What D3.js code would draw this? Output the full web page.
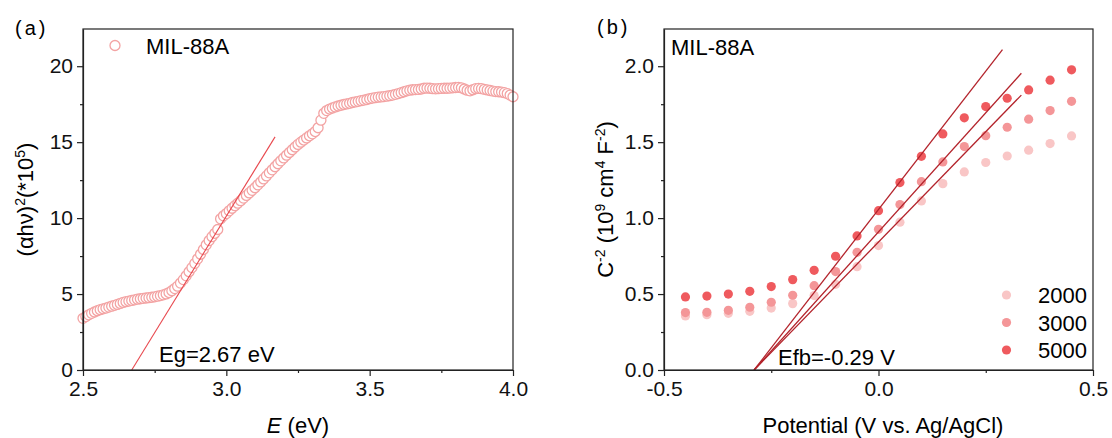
<!DOCTYPE html>
<html>
<head>
<meta charset="utf-8">
<script src="https://cdn.jsdelivr.net/npm/d3@7"></script>
<style>
  html, body { margin: 0; padding: 0; background: #fff; }
  svg { display: block; font-family: "Liberation Sans", Arial, sans-serif; }
  .axis path, .axis line { stroke: #222; stroke-width: 1.2; }
  .axis text { font-size: 21px; fill: #111; font-family: "Liberation Sans", Arial, sans-serif; }
</style>
</head>
<body>
<svg id="chart" width="1112" height="438"></svg>
<script>
// ---------- Panel (a): Tauc plot ----------
const taucLabel = "MIL-88A";
const energy = [
  2.50,2.51,2.52,2.53,2.54,2.55,2.56,2.57,2.58,2.59,
  2.60,2.61,2.62,2.63,2.64,2.65,2.66,2.67,2.68,2.69,
  2.70,2.71,2.72,2.73,2.74,2.75,2.76,2.77,2.78,2.79,
  2.80,2.81,2.82,2.83,2.84,2.85,2.86,2.87,2.88,2.89,
  2.90,2.91,2.92,2.93,2.94,2.95,2.96,2.97,2.98,2.99,
  3.00,3.01,3.02,3.03,3.04,3.05,3.06,3.07,3.08,3.09,
  3.10,3.11,3.12,3.13,3.14,3.15,3.16,3.17,3.18,3.19,
  3.20,3.21,3.22,3.23,3.24,3.25,3.26,3.27,3.28,3.29,
  3.30,3.31,3.32,3.33,3.34,3.35,3.36,3.37,3.38,3.39,
  3.40,3.41,3.42,3.43,3.44,3.45,3.46,3.47,3.48,3.49,
  3.50,3.51,3.52,3.53,3.54,3.55,3.56,3.57,3.58,3.59,
  3.60,3.61,3.62,3.63,3.64,3.65,3.66,3.67,3.68,3.69,
  3.70,3.71,3.72,3.73,3.74,3.75,3.76,3.77,3.78,3.79,
  3.80,3.81,3.82,3.83,3.84,3.85,3.86,3.87,3.88,3.89,
  3.90,3.91,3.92,3.93,3.94,3.95,3.96,3.97,3.98,3.99,
  4.00
];
const tauc = [
  3.40,3.52,3.63,3.73,3.82,3.90,3.97,4.03,4.08,4.14,
  4.20,4.26,4.32,4.38,4.45,4.50,4.54,4.58,4.62,4.66,
  4.69,4.72,4.74,4.76,4.79,4.82,4.86,4.90,4.95,5.01,
  5.10,5.22,5.36,5.52,5.72,5.95,6.20,6.47,6.74,7.02,
  7.32,7.62,7.93,8.24,8.52,8.78,9.00,9.25,9.95,10.15,
  10.30,10.48,10.65,10.82,10.98,11.15,11.32,11.49,11.66,11.83,
  12.00,12.19,12.38,12.58,12.78,12.98,13.18,13.38,13.58,13.77,
  13.96,14.14,14.32,14.50,14.68,14.85,15.00,15.14,15.28,15.42,
  15.55,15.70,15.95,16.45,16.90,17.08,17.18,17.25,17.32,17.38,
  17.43,17.48,17.52,17.56,17.61,17.65,17.69,17.73,17.77,17.81,
  17.86,17.90,17.93,17.96,17.98,18.00,18.03,18.06,18.10,18.15,
  18.20,18.26,18.32,18.38,18.42,18.45,18.46,18.47,18.50,18.55,
  18.56,18.55,18.52,18.51,18.52,18.54,18.55,18.55,18.56,18.58,
  18.60,18.61,18.58,18.50,18.42,18.38,18.45,18.52,18.54,18.52,
  18.48,18.44,18.40,18.36,18.33,18.32,18.30,18.26,18.20,18.10,
  17.99
];
// Band-gap tangent: intercept Eg, slope and end point of the drawn segment
const bandGap = 2.67;
const tangentSlope = 30.7;
const tangentEnd = 3.17;
const taucXTicks = [2.5, 3.0, 3.5, 4.0];
const taucXMinor = [2.75, 3.25, 3.75];
const taucYTicks = [0, 5, 10, 15, 20];
const taucYMinor = [2.5, 7.5, 12.5, 17.5];

// ---------- Panel (b): Mott–Schottky plot ----------
const potential = [-0.45,-0.40,-0.35,-0.30,-0.25,-0.20,-0.15,-0.10,-0.05,0.00,
                   0.05,0.10,0.15,0.20,0.25,0.30,0.35,0.40,0.45];
const freqLabels = ["2000", "3000", "5000"];
const ms2000 = [0.356,0.364,0.373,0.386,0.408,0.437,0.490,0.564,0.680,0.819,
                0.973,1.113,1.227,1.304,1.366,1.409,1.447,1.491,1.541];
const ms3000 = [0.378,0.380,0.393,0.413,0.446,0.492,0.555,0.648,0.775,0.926,
                1.089,1.240,1.370,1.471,1.543,1.598,1.651,1.708,1.769];
const ms5000 = [0.481,0.487,0.500,0.518,0.549,0.595,0.656,0.749,0.883,1.049,
                1.234,1.407,1.554,1.660,1.734,1.789,1.844,1.908,1.976];
// Linear fits share the flat-band intercept; slopes and segment ends per frequency
const flatBand = -0.29;
const fitSlopes = [2.905, 3.136, 3.644];
const fitEnds = [0.333, 0.333, 0.289];
const msXTicks = [-0.5, 0.0, 0.5];
const msXMinor = [-0.25, 0.25];
const msYTicks = [0.0, 0.5, 1.0, 1.5, 2.0];
const msYMinor = [0.25, 0.75, 1.25, 1.75];

const freqColors = ["#f9c6c6", "#f49698", "#ef5a5e"];
const svg = d3.select("#chart");
const plotTop = 29, plotBottom = 370;

function frame(g, x0, x1) {
  g.append("rect").attr("x", x0).attr("y", plotTop).attr("width", x1 - x0).attr("height", plotBottom - plotTop)
    .attr("fill", "none").attr("stroke", "#222").attr("stroke-width", 1.2);
}

function axes(g, x, y, xt, xm, yt, ym, xfmt, yfmt) {
  g.append("g").attr("class", "axis").attr("transform", `translate(0,${plotBottom})`)
    .call(d3.axisBottom(x).tickValues(xt).tickFormat(xfmt).tickSize(6).tickSizeOuter(0).tickPadding(5));
  g.append("g").attr("class", "axis").attr("transform", `translate(0,${plotBottom})`)
    .call(d3.axisBottom(x).tickValues(xm).tickFormat("").tickSize(3).tickSizeOuter(0))
    .select(".domain").remove();
  g.append("g").attr("class", "axis").attr("transform", `translate(${x.range()[0]},0)`)
    .call(d3.axisLeft(y).tickValues(yt).tickFormat(yfmt).tickSize(6).tickSizeOuter(0).tickPadding(4));
  g.append("g").attr("class", "axis").attr("transform", `translate(${x.range()[0]},0)`)
    .call(d3.axisLeft(y).tickValues(ym).tickFormat("").tickSize(3).tickSizeOuter(0))
    .select(".domain").remove();
}

// ----- panel (a)
{
  const x0 = 83, x1 = 513;
  const x = d3.scaleLinear().domain([2.5, 4.0]).range([x0, x1]);
  const y = d3.scaleLinear().domain([0, 22.45]).range([plotBottom, plotTop]);
  const g = svg.append("g");

  g.append("g").selectAll("circle").data(energy).join("circle")
    .attr("cx", (d) => x(d)).attr("cy", (d, i) => y(tauc[i])).attr("r", 5)
    .attr("fill", "#fff").attr("stroke", "#f3a3a3").attr("stroke-width", 1.3);

  g.append("line")
    .attr("x1", x(bandGap)).attr("y1", y(0))
    .attr("x2", x(tangentEnd)).attr("y2", y(tangentSlope * (tangentEnd - bandGap)))
    .attr("stroke", "#e8484e").attr("stroke-width", 1.1);

  frame(g, x0, x1);
  axes(g, x, y, taucXTicks, taucXMinor, taucYTicks, taucYMinor, d3.format(".1f"), d3.format("d"));

  // legend
  g.append("circle").attr("cx", 115).attr("cy", 45.5).attr("r", 5)
    .attr("fill", "#fff").attr("stroke", "#f3a3a3").attr("stroke-width", 1.3);
  g.append("text").attr("x", 146).attr("y", 53.5).attr("font-size", 22).text(taucLabel);

  g.append("text").attr("x", 159).attr("y", 362).attr("font-size", 22).text("Eg=2.67 eV");

  // axis titles
  const xt = g.append("text").attr("x", (x0 + x1) / 2).attr("y", 433).attr("text-anchor", "middle").attr("font-size", 22);
  xt.append("tspan").attr("font-style", "italic").text("E");
  xt.append("tspan").text(" (eV)");

  const yt = g.append("text").attr("transform", `translate(33,${(plotTop + plotBottom) / 2}) rotate(-90)`)
    .attr("text-anchor", "middle").attr("font-size", 22);
  yt.append("tspan").text("(αhν)");
  yt.append("tspan").attr("font-size", 14).attr("dy", -8).text("2");
  yt.append("tspan").attr("dy", 8).text("(*10");
  yt.append("tspan").attr("font-size", 14).attr("dy", -8).text("5");
  yt.append("tspan").attr("dy", 8).text(")");

  g.append("text").attr("x", 15).attr("y", 35).attr("font-size", 20).attr("letter-spacing", 3).text("(a)");
}

// ----- panel (b)
{
  const x0 = 664, x1 = 1093;
  const x = d3.scaleLinear().domain([-0.5, 0.5]).range([x0, x1]);
  const y = d3.scaleLinear().domain([0, 2.245]).range([plotBottom, plotTop]);
  const g = svg.append("g");
  const series = [ms2000, ms3000, ms5000];

  series.forEach((vals, k) => {
    g.append("g").selectAll("circle").data(potential).join("circle")
      .attr("cx", (d) => x(d)).attr("cy", (d, i) => y(vals[i])).attr("r", 4.6)
      .attr("fill", freqColors[k]);
  });

  fitSlopes.forEach((s, k) => {
    g.append("line")
      .attr("x1", x(flatBand)).attr("y1", y(0))
      .attr("x2", x(fitEnds[k])).attr("y2", y(s * (fitEnds[k] - flatBand)))
      .attr("stroke", "#b3232b").attr("stroke-width", 1.3);
  });

  frame(g, x0, x1);
  axes(g, x, y, msXTicks, msXMinor, msYTicks, msYMinor, (d) => d.toFixed(1), (d) => d.toFixed(1));

  g.append("text").attr("x", 671).attr("y", 55).attr("font-size", 22).text("MIL-88A");
  g.append("text").attr("x", 778).attr("y", 365).attr("font-size", 22).text("Efb=-0.29 V");

  const legY = [295, 322.5, 350];
  freqLabels.forEach((lab, k) => {
    g.append("circle").attr("cx", 1006.5).attr("cy", legY[k]).attr("r", 4.6).attr("fill", freqColors[k]);
    g.append("text").attr("x", 1038).attr("y", legY[k] + 8).attr("font-size", 22).text(lab);
  });

  g.append("text").attr("x", 883).attr("y", 433).attr("text-anchor", "middle").attr("font-size", 22)
    .text("Potential (V vs. Ag/AgCl)");

  const yt = g.append("text").attr("transform", `translate(613,${(plotTop + plotBottom) / 2}) rotate(-90)`)
    .attr("text-anchor", "middle").attr("font-size", 22);
  yt.append("tspan").text("C");
  yt.append("tspan").attr("font-size", 14).attr("dy", -8).text("-2");
  yt.append("tspan").attr("dy", 8).text(" (10");
  yt.append("tspan").attr("font-size", 14).attr("dy", -8).text("9");
  yt.append("tspan").attr("dy", 8).text(" cm");
  yt.append("tspan").attr("font-size", 14).attr("dy", -8).text("4");
  yt.append("tspan").attr("dy", 8).text(" F");
  yt.append("tspan").attr("font-size", 14).attr("dy", -8).text("-2");
  yt.append("tspan").attr("dy", 8).text(")");

  g.append("text").attr("x", 597).attr("y", 34).attr("font-size", 20).attr("letter-spacing", 3).text("(b)");
}
</script>
</body>
</html>
